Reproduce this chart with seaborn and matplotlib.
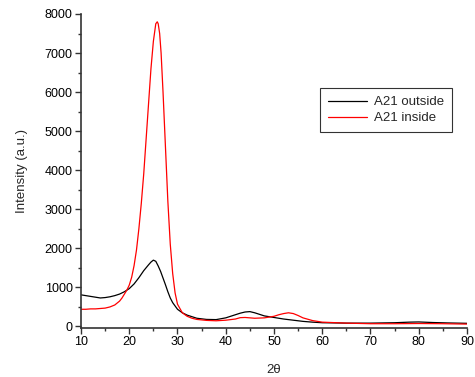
import numpy as np
import pandas as pd
import seaborn as sns
import matplotlib.pyplot as plt
from matplotlib.ticker import MultipleLocator

# A21 outside (black)
x_out = [10, 11, 12, 13, 14, 15, 16, 17, 18, 19, 20, 21, 22, 23, 24, 24.5, 25, 25.5, 26, 26.5,
         27, 27.5, 28, 28.5, 29, 30, 31, 32, 33, 34, 36, 38, 40, 41, 42, 43, 44, 45, 46, 47,
         48, 50, 52, 54, 56, 58, 60, 65, 70, 75, 78, 80, 83, 86, 90]
y_out = [800, 780, 760, 740, 720, 730, 750, 780, 820, 880, 960, 1080, 1240, 1420, 1570, 1640, 1690, 1660, 1540, 1400,
         1230, 1060, 880, 720, 600, 430, 340, 280, 240, 200, 170, 165, 210, 250, 290, 330, 360, 370, 340, 300,
         260, 220, 180, 150, 120, 100, 85, 75, 75, 85, 100, 105, 90, 80, 70]

# A21 inside (red)
x_in = [10, 11, 12, 13, 14, 15, 16, 17, 18, 18.5, 19, 19.5, 20, 20.5, 21, 21.5, 22, 22.5, 23, 23.5,
        24, 24.5, 25, 25.5, 25.8, 26, 26.3, 26.6, 27, 27.5, 28, 28.5, 29, 29.5, 30, 31, 32, 33, 34, 36,
        38, 40, 42, 43, 44, 46, 48, 50, 51, 52, 53, 54, 55, 56, 58, 60, 65, 70, 75, 80, 85, 90]
y_in = [430, 430, 440, 440, 450, 460, 490, 540, 640, 720, 820, 920, 1050, 1250, 1550, 1950, 2500, 3150, 3900, 4800,
        5700, 6600, 7300, 7750, 7800, 7750, 7500, 7000, 6000, 4600, 3200, 2100, 1350, 850, 560, 340, 250, 200, 170, 145,
        135, 150, 180, 215, 220, 200, 210, 250, 290, 320, 340, 320, 270, 210, 140, 100, 75, 60, 60, 65, 60, 50]

sns.set_style("ticks")
plt.rcParams['font.family'] = ['Liberation Sans', 'DejaVu Sans']
plt.rcParams['font.size'] = 9

fig = plt.figure(figsize=(4.75, 3.77), dpi=100, facecolor='white')
ax = fig.add_axes([81/475, 1 - 328/377, 386/475, 314/377])

sns.lineplot(x=x_out, y=y_out, color='black', linewidth=0.9, ax=ax, label='A21 outside')
sns.lineplot(x=x_in, y=y_in, color='red', linewidth=0.9, ax=ax, label='A21 inside')

ax.set_xlim(10, 90)
ax.set_ylim(-50, 8000)
ax.xaxis.set_major_locator(MultipleLocator(10))
ax.xaxis.set_minor_locator(MultipleLocator(5))
ax.yaxis.set_major_locator(MultipleLocator(1000))
ax.yaxis.set_minor_locator(MultipleLocator(500))
ax.tick_params(which='major', length=4, width=1, colors='#333333', labelcolor='black', labelsize=9, pad=2)
ax.tick_params(which='minor', length=2, width=1, colors='#333333')
for s in ['top', 'right']:
    ax.spines[s].set_visible(False)
for s in ['left', 'bottom']:
    ax.spines[s].set_color('#333333')
    ax.spines[s].set_linewidth(1.2)

ax.set_xlabel('2\u03b8', fontsize=9.5, labelpad=11)
ax.set_ylabel('Intensity (a.u.)', fontsize=9.5, labelpad=12)

leg = ax.legend(loc='upper left', bbox_to_anchor=(239/386, 1 - 74/314), fontsize=9.5,
                frameon=True, fancybox=False, handlelength=3, borderpad=0.6, labelspacing=0.3,
                handletextpad=0.5, borderaxespad=0)
leg.get_frame().set_edgecolor('black')
leg.get_frame().set_linewidth(0.8)

plt.savefig('out.png', dpi=100)
